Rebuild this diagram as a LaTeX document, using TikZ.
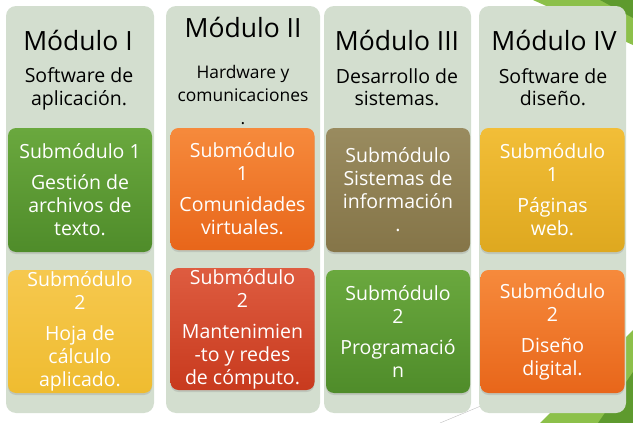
\documentclass[tikz,border=0pt]{standalone}
\usepackage{fontspec}
\setmainfont{Open Sans}
\usetikzlibrary{shadows}
\definecolor{colbg}{HTML}{D3DECF}
\definecolor{leaf}{HTML}{8CC04A}
\definecolor{leafdark}{HTML}{5E9A2E}
\definecolor{greenT}{HTML}{6AA83E}\definecolor{greenB}{HTML}{4F8C2A}
\definecolor{yellowT}{HTML}{F6C84E}\definecolor{yellowB}{HTML}{EFBC30}
\definecolor{orangeT}{HTML}{F68A3C}\definecolor{orangeB}{HTML}{E8661A}
\definecolor{redT}{HTML}{DE5C40}\definecolor{redB}{HTML}{C83A1E}
\definecolor{brownT}{HTML}{998B5F}\definecolor{brownB}{HTML}{857548}
\definecolor{goldT}{HTML}{F2BE38}\definecolor{goldB}{HTML}{DEA81F}
\begin{document}
\begin{tikzpicture}[x=1pt,y=-1pt]
        \tikzset{
            column/.style={fill=colbg, rounded corners=10pt, minimum width=#1, minimum height=407pt, inner sep=0pt},
            title/.style={font=\fontsize{26.5}{30}\selectfont},
            subtitle/.style={font=\fontsize{19.5}{22.5}\selectfont, align=center},
            subsmall/.style={font=\fontsize{17.4}{23}\selectfont, align=center},
            submod/.style={rounded corners=8pt, minimum width=144pt, minimum height=#1, inner sep=0pt,
                text=white, align=center, font=\fontsize{19.5}{23}\selectfont,
                drop shadow={opacity=0.25, shadow xshift=0pt, shadow yshift=-2pt}},
            tint/.style={top color=#1T, bottom color=#1B}
        }
        \useasboundingbox (0,0) rectangle (633,423);

        % green corners
        \fill[leaf] (533,0) -- (633,0) -- (633,45) -- cycle;
        \fill[leafdark] (600,0) -- (633,0) -- (633,18) -- cycle;
        \fill[leaf] (540,423) -- (633,330) -- (633,423) -- cycle;
        \fill[leafdark] (598,423) -- (633,372) -- (633,423) -- cycle;
        \draw[black!25, thin] (440,423) -- (500,398);

        % columns
        \node[column=148pt] (col1) at (80,209.5) {};
        \node[column=154pt] (col2) at (243,209.5) {};
        \node[column=147pt] (col3) at (397.5,209.5) {};
        \node[column=147pt] (col4) at (552.5,209.5) {};

        \node[title] (t1) at (78,40) {Módulo I};
        \node[title] (t2) at (243,27) {Módulo II};
        \node[title] (t3) at (397,40) {Módulo III};
        \node[title] (t4) at (554,40) {Módulo IV};

        \node[subtitle] (d1) at (79,89) {Software de\\aplicación.};
        \node[subsmall] (d2) at (243,95) {Hardware y\\comunicaciones\\.};
        \node[subtitle] (d3) at (397,87) {Desarrollo de\\sistemas.};
        \node[subtitle] (d4) at (553,87) {Software de\\diseño.};

        % submodulo 1
        \node[submod=124pt, tint=green] (s1a) at (80,190)
            {Submódulo 1\\[8pt]Gestión de\\archivos de\\texto.};
        \node[submod=122pt, tint=orange] (s2a) at (242.5,189)
            {Submódulo\\1\\[8pt]Comunidades\\virtuales.};
        \node[submod=124pt, tint=brown] (s3a) at (398,190)
            {Submódulo\\Sistemas de\\información\\.};
        \node[submod=124pt, tint=gold] (s4a) at (552.5,190)
            {Submódulo\\1\\[8pt]Páginas\\web.};

        % submodulo 2
        \node[submod=123pt, tint=yellow] (s1b) at (80,331.5)
            {Submódulo\\2\\[8pt]Hoja de\\cálculo\\aplicado.};
        \node[submod=122pt, tint=red] (s2b) at (242.5,329)
            {Submódulo\\2\\[8pt]Mantenimien\\-to y redes\\de cómputo.};
        \node[submod=123pt, tint=green] (s3b) at (398,331.5)
            {Submódulo\\2\\[8pt]Programació\\n};
        \node[submod=123pt, tint=orange] (s4b) at (552.5,331.5)
            {Submódulo\\2\\[8pt]Diseño\\digital.};
\end{tikzpicture}
\end{document}
